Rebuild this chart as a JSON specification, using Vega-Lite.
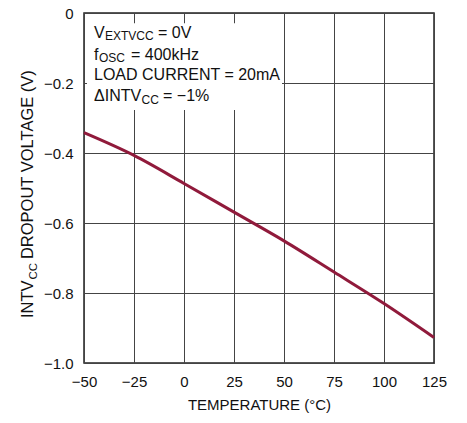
{
  "$schema": "https://vega.github.io/schema/vega-lite/v6.json",
  "width": 350,
  "height": 350,
  "autosize": {"type": "none"},
  "padding": {"left": 84, "top": 13, "right": 33, "bottom": 60},
  "background": "white",
  "config": {
    "font": "Liberation Sans",
    "view": {"stroke": "#222", "strokeWidth": 1.5},
    "axis": {
      "labelFont": "Liberation Sans",
      "titleFont": "Liberation Sans",
      "labelFontSize": 15,
      "titleFontSize": 15,
      "titleFontWeight": "normal",
      "labelColor": "#111",
      "titleColor": "#111",
      "gridColor": "#444",
      "gridWidth": 1,
      "gridOpacity": 1,
      "ticks": false,
      "domain": false,
      "labelFlush": false,
      "labelOverlap": false
    }
  },
  "datasets": {
    "curve": [
      {"x": -50, "y": -0.342},
      {"x": -25, "y": -0.407},
      {"x": 0, "y": -0.487},
      {"x": 25, "y": -0.569},
      {"x": 50, "y": -0.651},
      {"x": 75, "y": -0.740},
      {"x": 100, "y": -0.830},
      {"x": 125, "y": -0.927}
    ],
    "box": [{"x": -48.5, "x2": 49, "y": -0.029, "y2": -0.277}],
    "main": [
      {"t": "V", "x": -45, "y": -0.0706},
      {"t": "= 0V", "x": -13, "y": -0.0706},
      {"t": "f", "x": -45, "y": -0.135},
      {"t": "= 400kHz", "x": -26.5, "y": -0.135},
      {"t": "LOAD CURRENT = 20mA", "x": -45, "y": -0.1914},
      {"t": "ΔINTV", "x": -45, "y": -0.2514},
      {"t": "= −1%", "x": -10.5, "y": -0.2514}
    ],
    "sub": [
      {"t": "EXTVCC", "x": -39.5, "y": -0.077},
      {"t": "OSC", "x": -42.5, "y": -0.1414},
      {"t": "CC", "x": -21.25, "y": -0.26}
    ],
    "ytitle": [
      {"t": "INTV", "x": -75.65, "y": -0.8717},
      {"t": "DROPOUT VOLTAGE (V)", "x": -75.65, "y": -0.703}
    ],
    "ytitlesub": [
      {"t": "CC", "x": -73.75, "y": -0.7614}
    ]
  },
  "encoding": {
    "x": {
      "field": "x",
      "type": "quantitative",
      "scale": {"domain": [-50, 125], "nice": false, "zero": false},
      "axis": {
        "values": [-50, -25, 0, 25, 50, 75, 100, 125],
        "grid": true,
        "labelPadding": 11,
        "title": "TEMPERATURE (°C)",
        "titlePadding": 8
      }
    },
    "y": {
      "field": "y",
      "type": "quantitative",
      "scale": {"domain": [-1, 0], "nice": false, "zero": false},
      "axis": {
        "values": [-1, -0.8, -0.6, -0.4, -0.2, 0],
        "grid": true,
        "labelPadding": 11,
        "labelExpr": "datum.value == 0 ? '0' : format(datum.value, '.1f')",
        "title": null
      }
    }
  },
  "layer": [
    {
      "data": {"name": "box"},
      "mark": {"type": "rect", "fill": "white", "stroke": null},
      "encoding": {
        "x2": {"field": "x2"},
        "y2": {"field": "y2"}
      }
    },
    {
      "data": {"name": "curve"},
      "mark": {"type": "line", "color": "#901a3b", "strokeWidth": 3, "interpolate": "monotone"}
    },
    {
      "data": {"name": "main"},
      "mark": {"type": "text", "fontSize": 16, "align": "left", "baseline": "alphabetic", "color": "#111"},
      "encoding": {"text": {"field": "t"}}
    },
    {
      "data": {"name": "sub"},
      "mark": {"type": "text", "fontSize": 12, "align": "left", "baseline": "alphabetic", "color": "#111"},
      "encoding": {"text": {"field": "t"}}
    },
    {
      "data": {"name": "ytitle"},
      "mark": {"type": "text", "fontSize": 16.5, "align": "left", "baseline": "alphabetic", "angle": 270, "color": "#111"},
      "encoding": {"text": {"field": "t"}}
    },
    {
      "data": {"name": "ytitlesub"},
      "mark": {"type": "text", "fontSize": 11.5, "align": "left", "baseline": "alphabetic", "angle": 270, "color": "#111"},
      "encoding": {"text": {"field": "t"}}
    }
  ]
}
